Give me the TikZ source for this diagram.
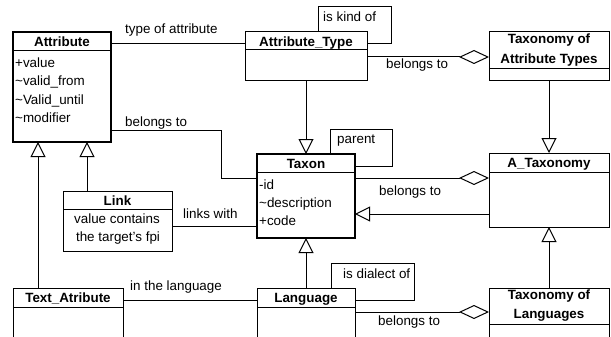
\documentclass[tikz,border=0pt]{standalone}
\usepackage{fontspec}
\setmainfont{Liberation Sans}
\usetikzlibrary{arrows.meta}

\newcommand\umlfont{\fontsize{13.4}{18}\selectfont}

\tikzstyle{class}=[draw,line width=1pt,anchor=north west,inner sep=0pt,outer sep=0pt]
\tikzstyle{main class}=[class,line width=2.6pt]
\tikzstyle{title}=[font=\umlfont\bfseries,anchor=base,inner sep=0pt]
\tikzstyle{member}=[font=\umlfont,anchor=base west,inner sep=0pt]
\tikzstyle{role}=[font=\umlfont,anchor=base west,inner sep=0pt]
\tikzstyle{assoc}=[draw,line width=1pt]
\tikzstyle{isa}=[draw,line width=1pt,-{Triangle[open,length=15pt,width=15pt]}]
\tikzstyle{whole}=[draw,line width=1pt,-{Diamond[open,length=30pt,width=14pt]}]

\begin{document}
\begin{tikzpicture}[x=1pt,y=-1pt]
     \useasboundingbox (0,0) rectangle (611,337);
     % First we draw the classes
     \foreach \name/\x/\y/\w/\h in {attr/13/32/98/110, taxon/257/154/98/84}
     \node[main class, minimum width=\w pt, minimum height=\h pt] (\name) at (\x,\y) {};
     \foreach \name/\x/\y/\w/\h in {atype/245/32/122/49, taxat/489/32/120/49,
       ataxo/489/153/120/74, link/63/191/109/60, textattr/13/288/110/70,
       lang/257/288/98/70, taxlang/489/288/120/70}
     \node[class, minimum width=\w pt, minimum height=\h pt] (\name) at (\x,\y) {};
     % Header compartments
     \foreach \name/\d in {attr/19, atype/18, taxat/37, taxon/18, ataxo/19,
       link/18, textattr/19, lang/19, taxlang/36}
     \draw[line width=1pt] ([yshift=-\d pt]\name.north west) -- ([yshift=-\d pt]\name.north east);
     % Class names
     \foreach \name/\text in {attr/Attribute, atype/Attribute\_Type, taxon/Taxon,
       ataxo/A\_Taxonomy, link/Link, textattr/Text\_Atribute, lang/Language}
     \node[title] (\name-t) at ([yshift=-14.5pt]\name.north) {\text};
     \node[title, anchor=center, align=center, font=\fontsize{13.4}{20}\selectfont\bfseries]
       (taxat-t) at ([yshift=-18.5pt]taxat.north) {Taxonomy of\\Attribute Types};
     \node[title, anchor=center, align=center, font=\fontsize{13.4}{19}\selectfont\bfseries]
       (taxlang-t) at ([yshift=-18pt]taxlang.north) {Taxonomy of\\Languages};
     % Members
     \foreach \pos/\name/\text in {{(15,68)/attr1/+value}, {(15,86)/attr2/\textasciitilde valid\_from},
       {(15,104)/attr3/\textasciitilde Valid\_until}, {(15,122)/attr4/\textasciitilde modifier},
       {(259,189)/taxon1/-id}, {(259,207)/taxon2/\textasciitilde description},
       {(259,225)/taxon3/+code}}
     \node[member] (\name) at \pos {\text};
     \node[member, anchor=base] (link1) at (117,223) {value contains};
     \node[member, anchor=base] (link2) at (118,241) {the target's fpi};
     % Connect classes with edges and draw roles
     \path[assoc] ([yshift=-12pt]attr.north east) -- ([yshift=-12pt]atype.north west);
     \path[assoc] ([yshift=12pt]attr.south east) -- ++(110,0) |- ([yshift=18pt]taxon.west);
     \path[assoc] ([yshift=-35pt]link.north east) -- ([yshift=-72pt]taxon.north west);
     \path[assoc] ([yshift=-12pt]textattr.north east) -- ([yshift=-12pt]lang.north west);
     \path[assoc] ([xshift=12pt]atype.north) -- ++(0,-25) -- ++(73,0) |- ([yshift=-12pt]atype.north east);
     \path[assoc] ([xshift=24pt]taxon.north) -- ++(0,-25) -- ++(62,0) |- ([yshift=-12pt]taxon.north east);
     \path[assoc] ([xshift=25pt]lang.north) -- ++(0,-25) -- ++(83,0) |- ([yshift=-12pt]lang.north east);
     \path[whole] ([yshift=-25pt]atype.north east) -- ([yshift=-25pt]taxat.north west);
     \path[whole] ([yshift=-24pt]taxon.north east) -- ([yshift=-25pt]ataxo.north west);
     \path[whole] ([yshift=-24pt]lang.north east) -- ([yshift=-24pt]taxlang.north west);
     \foreach \source/\dest in {atype.south/taxon.north, taxat.south/ataxo.north,
       lang.north/taxon.south, taxlang.north/ataxo.south}
     \path[isa] (\source) -- (\dest);
     \path[isa] ([yshift=-61pt]ataxo.north west) -- ([yshift=-60pt]taxon.north east);
     \path[isa] ([xshift=24pt]link.north west) -- ([xshift=74pt]attr.south west);
     \path[isa] ([xshift=25pt]textattr.north west) -- ([xshift=25pt]attr.south west);
     \foreach \pos/\name/\text in {{(125,34)/ltype/type of attribute}, {(125,126)/lbel1/belongs to},
       {(323,22)/lkind/is kind of}, {(386,69)/lbel2/belongs to}, {(337,143)/lpar/parent},
       {(379,195)/lbel3/belongs to}, {(183,218)/llink/links with}, {(343,278)/ldial/is dialect of},
       {(130,290)/llang/in the language}, {(378,325)/lbel4/belongs to}}
     \node[role] (\name) at \pos {\text};
\end{tikzpicture}
\end{document}
